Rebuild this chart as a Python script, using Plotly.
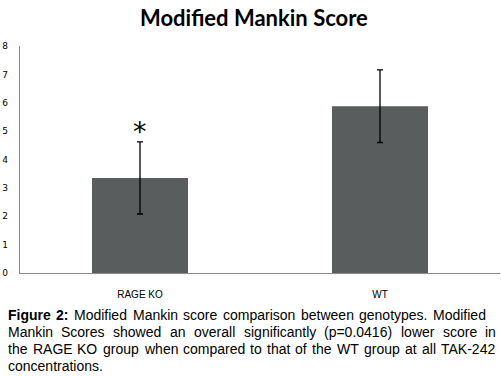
import plotly.graph_objects as go

categories = ["RAGE KO", "WT"]
scores = [3.35, 5.88]
errors = [1.27, 1.28]
significance = ["*", ""]
y_ticks = [0, 1, 2, 3, 4, 5, 6, 7, 8]

title_text = "Modified Mankin Score"
caption_lines = [
    "Figure 2: Modified Mankin score comparison between genotypes. Modified",
    "Mankin Scores showed an overall significantly (p=0.0416) lower score in",
    "the RAGE KO group when compared to that of the WT group at all TAK-242",
    "concentrations.",
]
bold_words = 2  # "Figure 2:" is bold

W, H = 501, 376
FS = 14

# Arial / Liberation Sans advance widths (1/1000 em)
REG = {" ": 278, "(": 333, ")": 333, ".": 278, ":": 278, "-": 333, "=": 584,
       "A": 667, "B": 667, "C": 722, "D": 722, "E": 667, "F": 611, "G": 778, "H": 722,
       "I": 278, "K": 667, "M": 833, "O": 778, "R": 722, "S": 667, "T": 611, "W": 944,
       "a": 556, "b": 556, "c": 500, "d": 556, "e": 556, "f": 278, "g": 556, "h": 556,
       "i": 222, "k": 500, "l": 222, "m": 833, "n": 556, "o": 556, "p": 556, "r": 333,
       "s": 500, "t": 278, "u": 556, "v": 500, "w": 722, "y": 500}
for d in "0123456789":
    REG[d] = 556
BOLD = {"F": 611, "i": 278, "g": 611, "u": 611, "r": 389, "e": 556, "2": 556, ":": 333}


def wwidth(word, bold):
    table = BOLD if bold else REG
    return sum(table.get(ch, 556) for ch in word) * FS / 1000.0


fig = go.Figure()
fig.add_trace(go.Bar(
    x=categories, y=scores, width=0.4,
    marker=dict(color="#595d5e", line=dict(width=0)),
    error_y=dict(type="data", array=errors, color="#000000", thickness=1.3, width=3),
))

for c, v, e, s in zip(categories, scores, errors, significance):
    if s:
        fig.add_annotation(x=c, y=v + e, text=s, showarrow=False, yanchor="bottom",
                           yshift=-7, font=dict(family="DejaVu Sans", size=27, color="#000000"))

plot_left, plot_top, plot_w, plot_bottom = 20, 46, 480, 273.5

fig.add_annotation(xref="paper", yref="paper", x=(254 - plot_left) / plot_w, y=1.0,
                   yshift=plot_top - 17, text="<b>" + title_text + "</b>",
                   showarrow=False, xanchor="center", yanchor="middle",
                   font=dict(family="Lato", size=22, color="#000000"))

line_y = [315, 332, 349, 366]
line_right = [486, 496, 496, None]
text_left = 8
for li, (line, py, right) in enumerate(zip(caption_lines, line_y, line_right)):
    words = line.split(" ")
    bold_flags = [(li == 0 and i < bold_words) for i in range(len(words))]
    widths = [wwidth(w, b) for w, b in zip(words, bold_flags)]
    if right is None or len(words) == 1:
        gap = REG[" "] * FS / 1000.0
    else:
        gap = (right - text_left - sum(widths)) / (len(words) - 1)
    xpos = text_left
    for w, b, wd in zip(words, bold_flags, widths):
        fig.add_annotation(xref="paper", yref="paper", x=(xpos - plot_left) / plot_w, y=0,
                           text=("<b>" + w + "</b>") if b else w, showarrow=False,
                           xanchor="left", yanchor="middle", borderpad=0, borderwidth=0,
                           yshift=-(py - plot_bottom),
                           font=dict(family="Liberation Sans", size=FS, color="#000000"))
        xpos += wd + gap

fig.update_layout(
    width=W, height=H,
    margin=dict(l=plot_left, r=W - plot_left - plot_w, t=plot_top, b=H - plot_bottom, autoexpand=False),
    paper_bgcolor="white", plot_bgcolor="white",
    showlegend=False,
    bargap=0.6,
)
fig.update_xaxes(automargin=False, showline=True, linecolor="#8c8c8c", linewidth=1.2, ticks="", showgrid=False,
                 tickfont=dict(family="Liberation Sans", size=10, color="#000000"), ticklabelstandoff=12)
fig.update_yaxes(automargin=False, range=[0, 8], tickvals=y_ticks, showline=True, linecolor="#8c8c8c",
                 linewidth=1.2, ticks="", showgrid=False, zeroline=False,
                 tickfont=dict(family="DejaVu Sans", size=9, color="#000000"), ticklabelstandoff=9)

fig.write_html("out.html", config={"displayModeBar": False},
               post_script="document.body.style.margin='0';")
